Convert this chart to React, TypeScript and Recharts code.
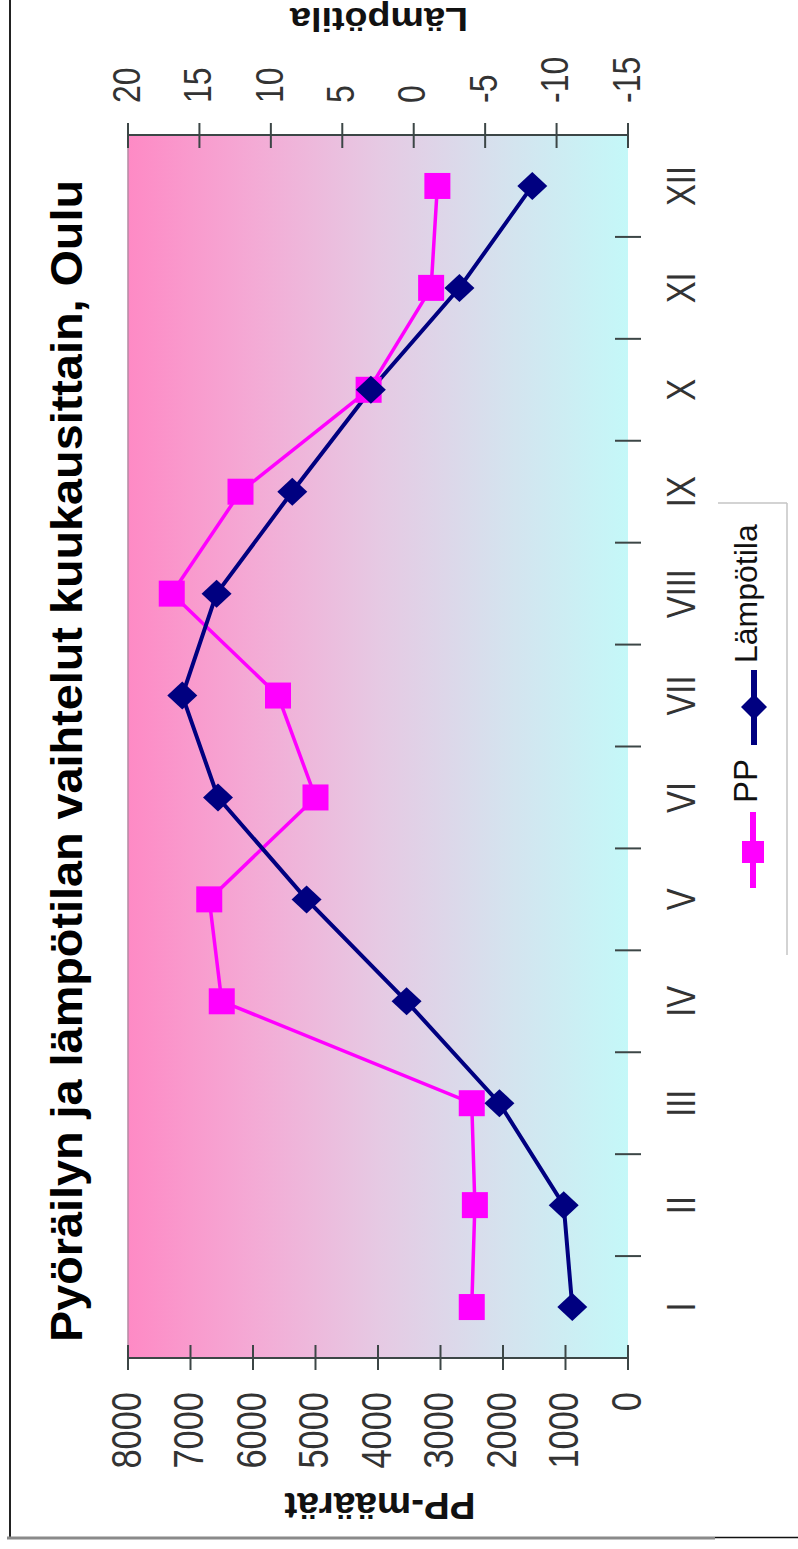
import React from 'react';
import { ComposedChart, Line, XAxis, YAxis, CartesianGrid, ReferenceLine } from 'recharts';

// monthly values
const months = ['I', 'II', 'III', 'IV', 'V', 'VI', 'VII', 'VIII', 'IX', 'X', 'XI', 'XII'];
const ppValues = [2500, 2450, 2500, 6500, 6700, 5000, 5600, 7300, 6200, 4150, 3150, 3050];
const tempValues = [-11.1, -10.5, -6, 0.5, 7.5, 13.7, 16.2, 13.8, 8.5, 3.0, -3.2, -8.3];
const ppTicks = [0, 1000, 2000, 3000, 4000, 5000, 6000, 7000, 8000];
const tempTicks = [-15, -10, -5, 0, 5, 10, 15, 20];

const PP_NAME = 'PP';
const TEMP_NAME = 'Lämpötila';
const PP_COLOR = '#ff00ff';
const TEMP_COLOR = '#000080';
const AXIS = '#3c4646';
const SANS = "'Liberation Sans', Arial, sans-serif";
const NARROW_SCALE = 0.82; // Arial Narrow look, squeezed regular sans

const data = months.map((m, i) => ({ month: m, pos: i + 1, pp: ppValues[i], temp: tempValues[i] }));
// label ticks on the months, separator ticks between them
const monthTicks = months.flatMap((_, i) => (i === 0 ? [1] : [i + 0.5, i + 1]));

const W = 1549;
const H = 798;

const NarrowText = ({ x, y, anchor, size, dy, children }: any) => (
  <text
    transform={`translate(${x} ${y}) scale(${NARROW_SCALE} 1)`}
    x={0}
    y={0}
    dy={dy}
    textAnchor={anchor}
    fontFamily={SANS}
    fontSize={size}
    fill="#333"
  >
    {children}
  </text>
);

const MonthTick = (props: any) => {
  const { x, y, payload } = props;
  const v = payload.value;
  if (Number.isInteger(v)) {
    return (
      <NarrowText x={x} y={y + 67} anchor="middle" size={40}>
        {months[v - 1]}
      </NarrowText>
    );
  }
  return <line x1={x} x2={x} y1={y - 13} y2={y + 13} stroke={AXIS} strokeWidth={2} />;
};

const PpTick = (props: any) => {
  const { x, y, payload } = props;
  return (
    <g>
      <line x1={x - 12} x2={x + 13} y1={y} y2={y} stroke={AXIS} strokeWidth={2} />
      <NarrowText x={x - 34} y={y} dy="0.3em" anchor="end" size={42}>
        {payload.value}
      </NarrowText>
    </g>
  );
};

const TempTick = (props: any) => {
  const { x, y, payload } = props;
  return (
    <g>
      <line x1={x - 13} x2={x + 12} y1={y} y2={y} stroke={AXIS} strokeWidth={2} />
      <NarrowText x={x + 32} y={y} dy="0.3em" anchor="start" size={39}>
        {payload.value}
      </NarrowText>
    </g>
  );
};

const SquareDot = (props: any) => {
  const { cx, cy, index } = props;
  if (cx == null || cy == null) return null;
  return <rect key={`sq-${index}`} x={cx - 13} y={cy - 13} width={26} height={26} fill={PP_COLOR} />;
};

const DiamondDot = (props: any) => {
  const { cx, cy, index } = props;
  if (cx == null || cy == null) return null;
  return (
    <path
      key={`dm-${index}`}
      d={`M${cx},${cy - 15} L${cx + 14},${cy} L${cx},${cy + 15} L${cx - 14},${cy} Z`}
      fill={TEMP_COLOR}
    />
  );
};

export default function App() {
  return (
    <div style={{ position: 'absolute', left: 0, top: 0, width: 798, height: 1549, overflow: 'hidden', background: '#fff' }}>
      <svg width={0} height={0} style={{ position: 'absolute' }}>
        <defs>
          <linearGradient id="plotBg" x1="0" y1="0" x2="0" y2="1">
            <stop offset="0%" stopColor="#fe8ac5" />
            <stop offset="25%" stopColor="#f4aad5" />
            <stop offset="50%" stopColor="#e6c9e3" />
            <stop offset="75%" stopColor="#d5e2ee" />
            <stop offset="100%" stopColor="#c4f8f8" />
          </linearGradient>
        </defs>
      </svg>
      <div
        style={{
          position: 'absolute',
          left: 0,
          top: 0,
          width: W,
          height: H,
          transformOrigin: '0 0',
          transform: `translate(0px, ${W}px) rotate(-90deg)`,
        }}
      >
        <ComposedChart width={W} height={H} data={data} margin={{ top: 128, right: 0, bottom: 0, left: 0 }}>
          <CartesianGrid horizontal={false} vertical={false} fill="url(#plotBg)" />
          <XAxis
            dataKey="pos"
            type="number"
            domain={[0.5, 12.5]}
            ticks={monthTicks}
            interval={0}
            height={170}
            axisLine={false}
            tickLine={false}
            tickSize={0}
            tickMargin={0}
            tick={MonthTick}
          />
          <YAxis
            width={191}
            domain={[0, 8000]}
            ticks={ppTicks}
            interval={0}
            axisLine={{ stroke: AXIS, strokeWidth: 2 }}
            tickLine={false}
            tickSize={0}
            tickMargin={0}
            tick={PpTick}
          />
          <YAxis
            yAxisId="t"
            orientation="right"
            width={135}
            domain={[-15, 20]}
            ticks={tempTicks}
            interval={0}
            axisLine={{ stroke: AXIS, strokeWidth: 2 }}
            tickLine={false}
            tickSize={0}
            tickMargin={0}
            tick={TempTick}
          />
          <ReferenceLine y={8000} stroke="#b58aa3" strokeWidth={1.5} />
          <Line
            dataKey="pp"
            name={PP_NAME}
            type="linear"
            stroke={PP_COLOR}
            strokeWidth={3.5}
            dot={SquareDot}
            activeDot={false}
            isAnimationActive={false}
          />
          <Line
            dataKey="temp"
            name={TEMP_NAME}
            yAxisId="t"
            type="linear"
            stroke={TEMP_COLOR}
            strokeWidth={4}
            dot={DiamondDot}
            activeDot={false}
            isAnimationActive={false}
          />
        </ComposedChart>
        <svg
          width={W}
          height={H}
          style={{ position: 'absolute', left: 0, top: 0, pointerEvents: 'none', overflow: 'visible' }}
        >
          {/* frame */}
          <line x1={11} y1={10} x2={W + 10} y2={10} stroke="#222" strokeWidth={2} />
          <line x1={11} y1={7} x2={11} y2={715} stroke="#8a8a8a" strokeWidth={3} />
          <line x1={11.5} y1={715} x2={11.5} y2={H + 5} stroke="#111" strokeWidth={1.5} />
          {/* title */}
          <text
            x={788}
            y={82}
            textAnchor="middle"
            fontFamily={SANS}
            fontWeight="bold"
            fontSize={45}
            fill="#000"
            textLength={1162}
            lengthAdjust="spacingAndGlyphs"
          >
            Pyöräilyn ja lämpötilan vaihtelut kuukausittain, Oulu
          </text>
          {/* axis titles */}
          <text
            x={56}
            y={380}
            transform="rotate(-90 56 380)"
            textAnchor="middle"
            fontFamily={SANS}
            fontWeight="bold"
            fontSize={37}
            fill="#111"
            textLength={191}
            lengthAdjust="spacingAndGlyphs"
          >
            PP-määrät
          </text>
          <text
            x={1541}
            y={379}
            transform="rotate(-90 1541 379)"
            textAnchor="middle"
            fontFamily={SANS}
            fontWeight="bold"
            fontSize={34}
            fill="#111"
            textLength={178}
            lengthAdjust="spacingAndGlyphs"
          >
            Lämpötila
          </text>
          {/* legend */}
          <line x1={1046} y1={718} x2={1046} y2={787} stroke="#c4c4c4" strokeWidth={1.5} />
          <line x1={594} y1={787} x2={1046} y2={787} stroke="#c4c4c4" strokeWidth={1.5} />
          <line x1={661} y1={753} x2={737} y2={753} stroke={PP_COLOR} strokeWidth={6} />
          <rect x={686} y={742} width={22} height={22} fill={PP_COLOR} />
          <text x={746} y={757} fontFamily={SANS} fontSize={33} fill="#111">{PP_NAME}</text>
          <line x1={804} y1={754} x2={879} y2={754} stroke={TEMP_COLOR} strokeWidth={6} />
          <path d="M842,741 L855,754 L842,767 L829,754 Z" fill={TEMP_COLOR} />
          <text x={886} y={757} fontFamily={SANS} fontSize={32} fill="#111">{TEMP_NAME}</text>
        </svg>
      </div>
    </div>
  );
}
